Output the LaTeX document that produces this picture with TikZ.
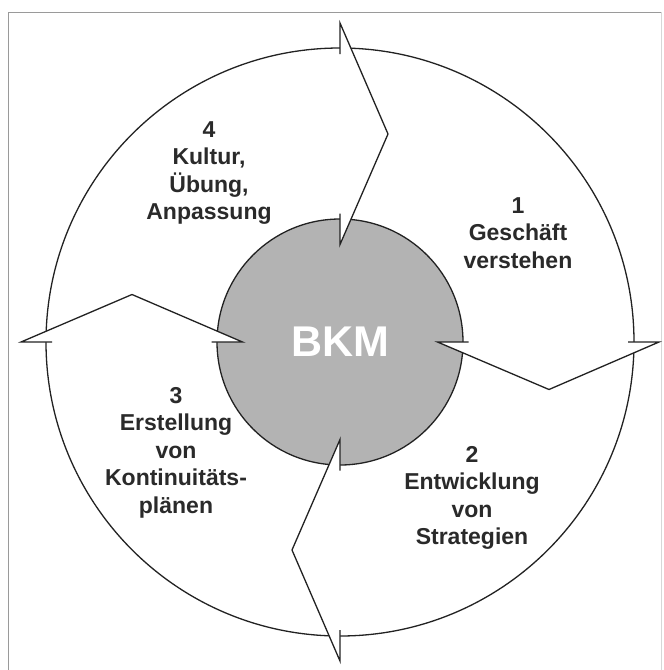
\documentclass[tikz,border=0pt]{standalone}
\usepackage{fontspec}
\setmainfont{Liberation Sans}
\definecolor{ink}{HTML}{222222}
\definecolor{txt}{HTML}{2A2A2A}
\definecolor{disc}{HTML}{B3B3B3}
\definecolor{framec}{HTML}{9A9A9A}
\begin{document}
\begin{tikzpicture}[x=1pt,y=-1pt,
  line/.style={draw=ink, line width=1.3pt, line join=miter},
  lbl/.style={text=txt, font=\bfseries\fontsize{23}{27.5}\selectfont, align=center, anchor=north, inner sep=0pt},
  wedge/.style={fill=white}
]
\useasboundingbox (0,0) rectangle (664,670);
\fill[white] (0,0) rectangle (664,670);
\draw[framec, line width=1pt] (8,670) -- (8,12) -- (661,12);
\draw[framec!40, line width=0.8pt] (661,12) -- (661,670);
\coordinate (C) at (340,342);
\node[circle, draw=ink, line width=1.3pt, minimum size=588pt, inner sep=0pt] (outer) at (C) {};
\node[circle, draw=ink, fill=disc, line width=1.3pt, minimum size=246pt, inner sep=0pt, text=white, font=\bfseries\fontsize{43}{43}\selectfont] (bkm) at (C) {BKM};
% top arrow
\coordinate (tO) at (340,23); \coordinate (tOt) at (340,54);
\coordinate (tB) at (388,134);
\coordinate (tI) at (340,244.5); \coordinate (tIt) at (340,213.5);
\fill[wedge] (tO) -- (tB) -- (tI) -- cycle;
\draw[line] (tOt) -- (tO) -- (tB) -- (tI) -- (tIt);
% right arrow
\coordinate (rI) at (437.5,342); \coordinate (rIt) at (468.5,342);
\coordinate (rB) at (549,389.5);
\coordinate (rO) at (659,342); \coordinate (rOt) at (628,342);
\fill[wedge] (rI) -- (rB) -- (rO) -- cycle;
\draw[line] (rIt) -- (rI) -- (rB) -- (rO) -- (rOt);
% bottom arrow
\coordinate (bI) at (340,439.5); \coordinate (bIt) at (340,470.5);
\coordinate (bB) at (292,550);
\coordinate (bO) at (340,661); \coordinate (bOt) at (340,630);
\fill[wedge] (bI) -- (bB) -- (bO) -- cycle;
\draw[line] (bIt) -- (bI) -- (bB) -- (bO) -- (bOt);
% left arrow
\coordinate (lO) at (21,342); \coordinate (lOt) at (52,342);
\coordinate (lB) at (132,294.5);
\coordinate (lI) at (242.5,342); \coordinate (lIt) at (211.5,342);
\fill[wedge] (lO) -- (lB) -- (lI) -- cycle;
\draw[line] (lOt) -- (lO) -- (lB) -- (lI) -- (lIt);
% labels
\node[lbl] (s4) at (209,121) {4\\Kultur,\\Übung,\\Anpassung};
\node[lbl] (s1) at (518,197) {1\\Geschäft\\verstehen};
\node[lbl] (s2) at (472,446) {2\\Entwicklung\\von\\Strategien};
\node[lbl] (s3) at (176,387) {3\\Erstellung\\von\\Kontinuitäts-\\plänen};
\end{tikzpicture}
\end{document}
